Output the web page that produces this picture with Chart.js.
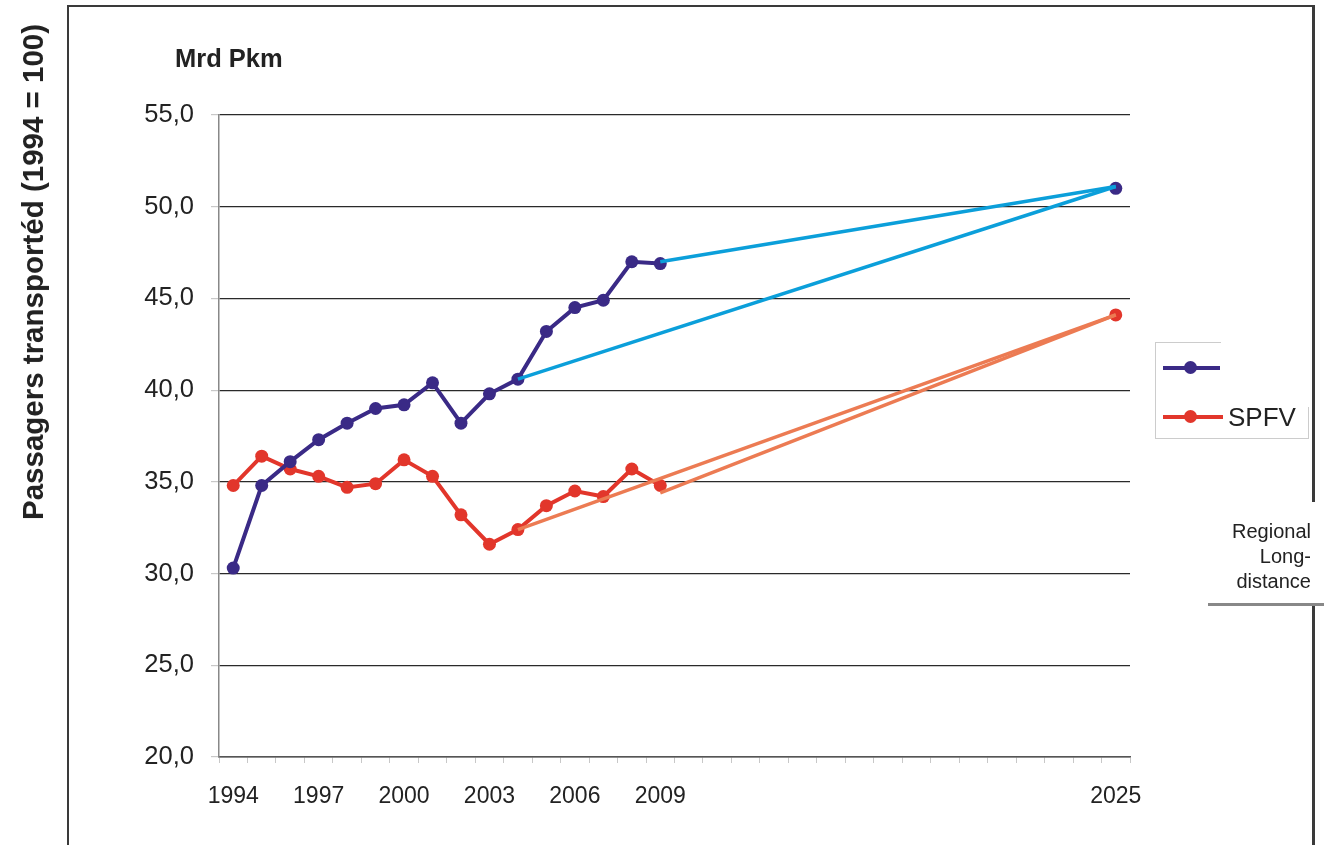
<!DOCTYPE html>
<html>
<head>
<meta charset="utf-8">
<script src="https://cdn.jsdelivr.net/npm/chart.js@4.4.1/dist/chart.umd.min.js"></script>
<style>
    body { margin: 0; background: #fff; }
    #wrap { position: relative; width: 1324px; height: 845px; overflow: hidden; font-family: "Liberation Sans", Arial, sans-serif; color: #222; }
    #chart { position: absolute; left: 0; top: 0; }
    .abs { position: absolute; }
    .frame { background: #3a3a3a; }
    #yTitle { left: 33px; top: 272px; transform: translate(-50%, -50%) rotate(-90deg); white-space: nowrap; font-weight: bold; font-size: 29.5px; }
    #unit { left: 175px; top: 44px; font-weight: bold; font-size: 25.5px; }
    #legendBox { left: 1155px; top: 342px; width: 152px; height: 95px; border: 1px solid #ccc; background: #fff; }
    #legendMask { left: 1221px; top: 330px; width: 89px; height: 77px; background: #fff; }
    .lgLine { height: 4px; }
    .lgDot { width: 13px; height: 13px; border-radius: 50%; }
    #spfv { left: 1228px; top: 402px; font-size: 26px; }
    #regional { left: 1200px; top: 519px; width: 111px; text-align: right; font-size: 20px; line-height: 25px; }
</style>
</head>
<body>
<div id="wrap">
    <canvas id="chart" width="1324" height="845"></canvas>

    <!-- outer frame -->
    <div class="abs frame" style="left:67px;top:5px;width:2px;height:840px"></div>
    <div class="abs frame" style="left:67px;top:5px;width:1247px;height:2px"></div>
    <div class="abs frame" style="left:1312px;top:5px;width:2.5px;height:497px"></div>
    <div class="abs frame" style="left:1312px;top:605px;width:2.5px;height:240px"></div>
    <div class="abs" style="left:1208px;top:603px;width:116px;height:3px;background:#888"></div>

    <div id="yTitle" class="abs">Passagers transportéd (1994 = 100)</div>
    <div id="unit" class="abs">Mrd Pkm</div>

    <!-- legend -->
    <div id="legendBox" class="abs"></div>
    <div id="legendMask" class="abs"></div>
    <div class="abs lgLine" style="left:1163px;top:366px;width:57px;background:#3a2a86"></div>
    <div class="abs lgDot" style="left:1184px;top:361px;background:#3a2a86"></div>
    <div class="abs lgLine" style="left:1163px;top:415px;width:60px;background:#e2362b"></div>
    <div class="abs lgDot" style="left:1184px;top:410px;background:#e2362b"></div>
    <div id="spfv" class="abs">SPFV</div>
    <div id="regional" class="abs">Regional<br>Long-<br>distance</div>
</div>

<script>
"use strict";

// categories
const years = ['1994', '1995', '1996', '1997', '1998', '1999', '2000', '2001', '2002', '2003',
    '2004', '2005', '2006', '2007', '2008', '2009', '2010', '2011', '2012', '2013',
    '2014', '2015', '2016', '2017', '2018', '2019', '2020', '2021', '2022', '2023',
    '2024', '2025'];
const shownYears = ['1994', '1997', '2000', '2003', '2006', '2009', '2025'];

// series values (Mrd Pkm)
const regional = [30.3, 34.8, 36.1, 37.3, 38.2, 39.0, 39.2, 40.4, 38.2, 39.8,
    40.6, 43.2, 44.5, 44.9, 47.0, 46.9, null, null, null, null,
    null, null, null, null, null, null, null, null, null, null,
    null, 51.0];
const spfv = [34.8, 36.4, 35.7, 35.3, 34.7, 34.9, 36.2, 35.3, 33.2, 31.6,
    32.4, 33.7, 34.5, 34.2, 35.7, 34.8, null, null, null, null,
    null, null, null, null, null, null, null, null, null, null,
    null, 44.1];

// projection lines to 2025
const regionalTrendFrom2004 = [{ x: '2004', y: 40.6 }, { x: '2025', y: 51.1 }];
const regionalTrendFrom2009 = [{ x: '2009', y: 47.0 }, { x: '2025', y: 51.1 }];
const spfvTrendFrom2004 = [{ x: '2004', y: 32.4 }, { x: '2025', y: 44.1 }];
const spfvTrendFrom2009 = [{ x: '2009', y: 34.4 }, { x: '2025', y: 44.1 }];

const yTicks = [20, 25, 30, 35, 40, 45, 50, 55];

const purple = '#3a2a86';
const red = '#e2362b';
const lightBlue = '#0b9fda';
const orange = '#ec7b53';

function trend(data, color) {
    return {
        data: data,
        borderColor: color,
        borderWidth: 3.5,
        pointRadius: 0,
        spanGaps: true
    };
}

function series(data, color) {
    return {
        data: data,
        borderColor: color,
        backgroundColor: color,
        borderWidth: 4,
        pointRadius: 6.5,
        pointBorderWidth: 0,
        spanGaps: false
    };
}

const ctx = document.getElementById('chart');
const myChart = new Chart(ctx, {
    type: 'line',
    data: {
        labels: years,
        datasets: [
            // first datasets are drawn on top
            trend(regionalTrendFrom2004, lightBlue),
            trend(regionalTrendFrom2009, lightBlue),
            trend(spfvTrendFrom2004, orange),
            trend(spfvTrendFrom2009, orange),
            series(regional, purple),
            series(spfv, red)
        ]
    },
    options: {
        responsive: false,
        animation: false,
        layout: {
            padding: { left: 0, top: 115, right: 194, bottom: 0 }
        },
        plugins: {
            legend: { display: false },
            tooltip: { enabled: false }
        },
        scales: {
            x: {
                type: 'category',
                offset: true,
                afterFit: function (scale) { scale.height = 88; },
                grid: {
                    offset: true,
                    drawOnChartArea: false,
                    tickLength: 6,
                    tickColor: '#c8c8c8'
                },
                border: { color: '#555', width: 1.5 },
                ticks: {
                    autoSkip: false,
                    maxRotation: 0,
                    padding: 20,
                    color: '#222',
                    font: { family: "'Liberation Sans', Arial", size: 23 },
                    callback: function (value) {
                        const label = years[value];
                        return shownYears.includes(label) ? label : '';
                    }
                }
            },
            y: {
                min: yTicks[0],
                max: yTicks[yTicks.length - 1],
                afterFit: function (scale) { scale.width = 219; },
                afterBuildTicks: function (scale) {
                    scale.ticks = yTicks.map(v => ({ value: v }));
                },
                grid: {
                    color: '#2a2a2a',
                    lineWidth: 1.2,
                    tickLength: 8,
                    tickColor: '#c8c8c8'
                },
                border: { color: '#888', width: 1.5 },
                ticks: {
                    padding: 17,
                    color: '#222',
                    font: { family: "'Liberation Sans', Arial", size: 25.5 },
                    callback: function (value) {
                        return value.toFixed(1).replace('.', ',');
                    }
                }
            }
        }
    }
});
</script>
</body>
</html>
